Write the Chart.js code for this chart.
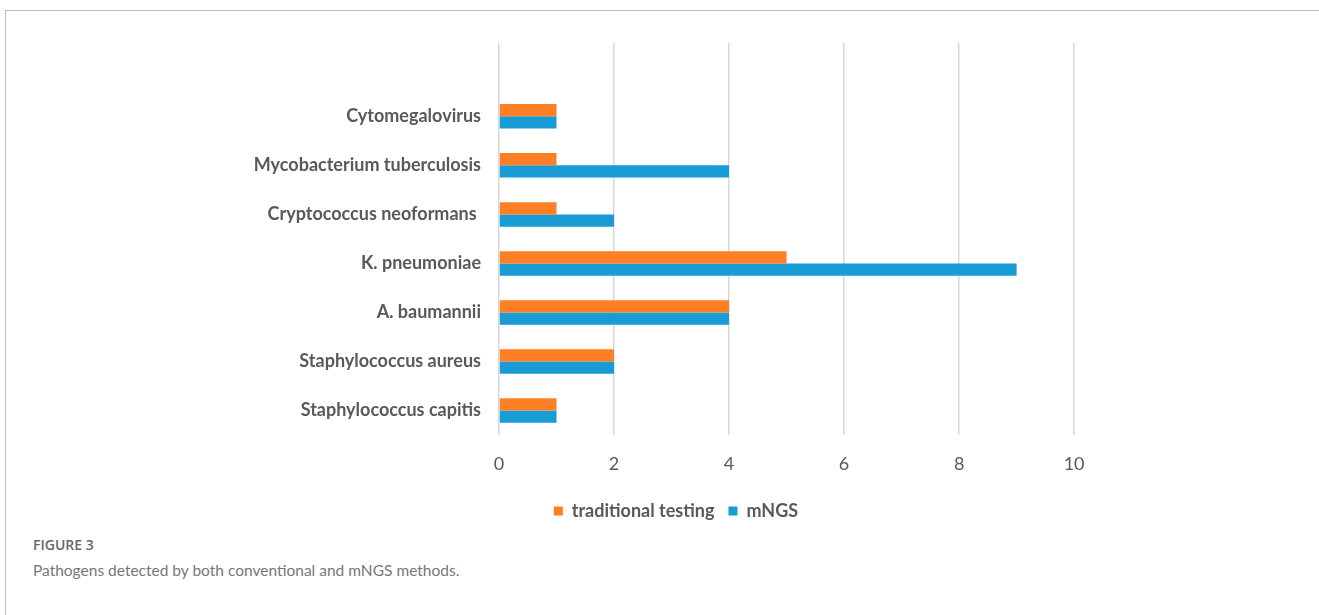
<!DOCTYPE html>
<html>
<head>
<meta charset="utf-8">
<script src="https://cdn.jsdelivr.net/npm/chart.js@4.4.1/dist/chart.umd.min.js"></script>
<style>
  html, body { margin: 0; padding: 0; background: #fff; }
  body { width: 1319px; height: 615px; position: relative; overflow: hidden; }
  #frame { position: absolute; left: 5px; top: 10px; width: 1400px; height: 700px;
           border-top: 1px solid #bdbdbd; border-left: 1px solid #bdbdbd; }
  #wrap { position: absolute; left: 30px; top: 14px; width: 1292px; height: 516px; }
  #cap1 { position: absolute; left: 33px; top: 535px; font-family: "Open Sans", sans-serif;
          font-size: 14px; font-weight: 600; color: #666; }
  #cap2 { position: absolute; left: 33px; top: 561px; font-family: "Lato", sans-serif;
          font-size: 15.5px; color: #777; }
</style>
</head>
<body>
<div id="frame"></div>
<div id="wrap"><canvas id="chart"></canvas></div>
<div id="cap1">FIGURE 3</div>
<div id="cap2">Pathogens detected by both conventional and mNGS methods.</div>
<script>
// categories top to bottom (first row is the blank one Excel leaves)
const categories = ['', 'Cytomegalovirus', 'Mycobacterium tuberculosis', 'Cryptococcus neoformans ',
  'K. pneumoniae', 'A. baumannii', 'Staphylococcus aureus', 'Staphylococcus capitis'];
const traditional = [null, 1, 1, 1, 5, 4, 2, 1];
const mngs = [null, 1, 4, 2, 9, 4, 2, 1];
const xTicks = [0, 2, 4, 6, 8, 10];

const textColor = '#595959';
const gridColor = '#d9d9d9';

new Chart(document.getElementById('chart'), {
  type: 'bar',
  data: {
    labels: categories,
    datasets: [
      { label: 'traditional testing', data: traditional, backgroundColor: '#ff7f24',
        barPercentage: 1, categoryPercentage: 0.5 },
      { label: 'mNGS', data: mngs, backgroundColor: '#199bd6',
        barPercentage: 1, categoryPercentage: 0.5 }
    ]
  },
  options: {
    indexAxis: 'y',
    responsive: true,
    maintainAspectRatio: false,
    animation: false,
    layout: { padding: 0 },
    scales: {
      x: {
        // extra room on the right keeps the legend centred like the original
        min: 0, max: 14.31,
        afterBuildTicks: s => { s.ticks = xTicks.map(v => ({ value: v })); },
        afterFit: s => { s.height = 53; },
        grid: { color: gridColor, lineWidth: 1.5, drawTicks: false },
        border: { display: false },
        ticks: { color: textColor, padding: 18, font: { family: 'Lato', size: 18 } }
      },
      y: {
        afterFit: s => { s.width = 469; },
        grid: { display: false, drawTicks: false },
        border: { display: false },
        ticks: { color: textColor, padding: 18, font: { family: 'Lato', size: 18, weight: 'bold' } }
      }
    },
    plugins: {
      legend: {
        position: 'bottom',
        labels: { color: textColor, boxWidth: 9, boxHeight: 9, padding: 14,
                  font: { family: 'Lato', size: 18, weight: 'bold' } }
      },
      tooltip: { enabled: false }
    }
  }
});
</script>
</body>
</html>
